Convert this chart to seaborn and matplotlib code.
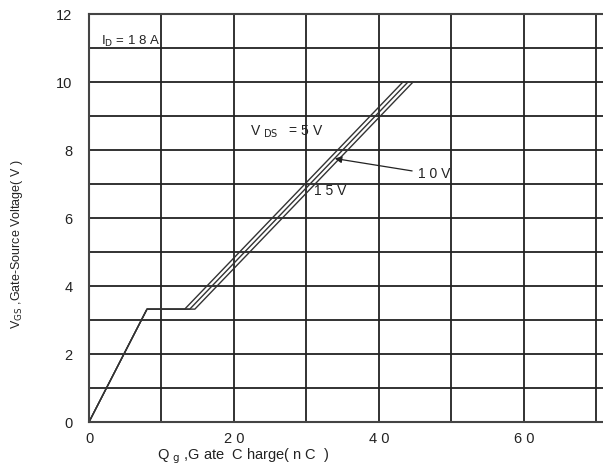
import pandas as pd
import seaborn as sns
import matplotlib.pyplot as plt
import matplotlib
matplotlib.use('Agg')

# gate charge curves for VDS = 5V, 10V, 15V (Qg in nC, VGS in V)
vds = ["5V", "10V", "15V"]
qg_5 = [0, 8.0, 13.2, 43.3]
qg_10 = [0, 8.0, 13.9, 44.0]
qg_15 = [0, 8.0, 14.6, 44.7]
vgs = [0, 3.32, 3.32, 10.0]

rows = []
for name, qg in zip(vds, [qg_5, qg_10, qg_15]):
    for q, v in zip(qg, vgs):
        rows.append({"VDS": name, "Qg": q, "VGS": v})
df = pd.DataFrame(rows)

x_ticks = [0, 10, 20, 30, 40, 50, 60, 70]
x_labels = ["0", "", "2 0", "", "4 0", "", "6 0", ""]
y_ticks = list(range(0, 13))
y_labels = [str(v) if v % 2 == 0 else "" for v in y_ticks]

sns.set_style("white")
plt.rcParams['font.family'] = ['Liberation Sans', 'DejaVu Sans']

fig = plt.figure(figsize=(6.03, 4.70), dpi=100)
ax = fig.add_axes([0.1476, 0.1021, 0.8524, 0.8681])

sns.lineplot(data=df, x="Qg", y="VGS", hue="VDS", units="VDS", estimator=None,
             palette=["#333333"] * 3, linewidth=1.0, legend=False, sort=False, ax=ax)

ax.set_xlim(0, 70.9)
ax.set_ylim(0, 12)
ax.set_xticks(x_ticks)
ax.set_xticklabels(x_labels)
ax.set_yticks(y_ticks)
ax.set_yticklabels(y_labels)
ax.grid(True, color="#222222", linewidth=1.3)
ax.tick_params(axis="both", length=0, labelsize=10.5, colors="#222222")
ax.tick_params(axis="y", pad=12)
ax.tick_params(axis="x", pad=7)
for side in ["left", "top", "bottom"]:
    ax.spines[side].set_color("#444444")
    ax.spines[side].set_linewidth(1.5)
ax.spines["right"].set_visible(False)
ax.set_xlabel("")
ax.set_ylabel("")

ax.text(1.6, 11.2, r"I$_{\rm D}$ = 1 8 A", fontsize=9.5, color="#222222", va="center")
ax.text(22.2, 8.55, r"V $_{\rm D  S}$   = 5 V", fontsize=10, color="#222222", va="center")
ax.text(31.0, 6.78, "1 5 V", fontsize=10, color="#222222", va="center")
ax.annotate("1 0 V", xy=(33.9, 7.75), xytext=(45.4, 7.28), fontsize=10,
            color="#222222", va="center",
            arrowprops=dict(arrowstyle="-|>", color="#222222", lw=0.9,
                            mutation_scale=10, shrinkA=2, shrinkB=0))

fig.text(0.403, 0.008, r"Q $_{\rm g}$ ,G ate  C harge( n C  )", fontsize=10.5,
         color="#222222", ha="center", va="bottom")
fig.text(0.028, 0.48, "V$_{\\rm GS}$ ,Gate-Source Voltage( V )", fontsize=9,
         color="#222222", rotation=90, ha="center", va="center")

fig.savefig("out.png", dpi=100)
